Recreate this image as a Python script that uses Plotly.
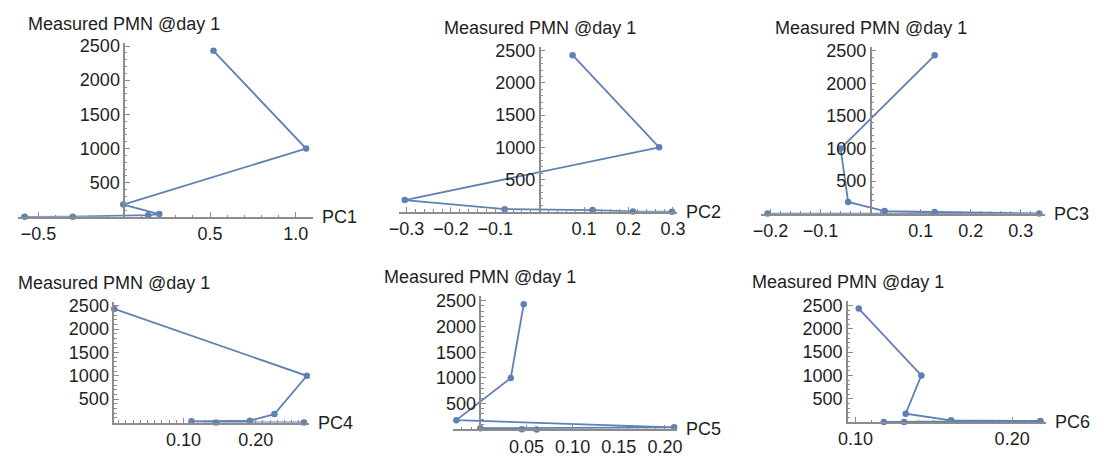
import plotly.graph_objects as go

# Measured PMN at day 1 (shared response) and the six principal-component scores
pmn_day1 = [2430, 1000, 180, 40, 25, 3, 1]
pc1 = [0.52, 1.06, -0.006, 0.204, 0.14, -0.30, -0.58]
pc2 = [0.074, 0.269, -0.304, -0.079, 0.119, 0.210, 0.298]
pc3 = [0.128, -0.060, -0.045, 0.028, 0.128, 0.337, -0.206]
pc4 = [0.004, 0.271, 0.226, 0.192, 0.111, 0.145, 0.267]
pc5 = [0.047, 0.033, -0.026, 0.210, 0.0, 0.045, 0.061]
pc6 = [0.102, 0.142, 0.132, 0.161, 0.218, 0.118, 0.131]

pc_names = ["PC1", "PC2", "PC3", "PC4", "PC5", "PC6"]
y_label = "Measured PMN @day 1"
y_ticks = [500, 1000, 1500, 2000, 2500]

x_ticks = [
    [-0.5, 0.5, 1.0],
    [-0.3, -0.2, -0.1, 0.1, 0.2, 0.3],
    [-0.2, -0.1, 0.1, 0.2, 0.3],
    [0.10, 0.20],
    [0.05, 0.10, 0.15, 0.20],
    [0.10, 0.20],
]
x_tick_text = [
    ["\u22120.5", "0.5", "1.0"],
    ["\u22120.3", "\u22120.2", "\u22120.1", "0.1", "0.2", "0.3"],
    ["\u22120.2", "\u22120.1", "0.1", "0.2", "0.3"],
    ["0.10", "0.20"],
    ["0.05", "0.10", "0.15", "0.20"],
    ["0.10", "0.20"],
]
x_minor_step = [0.1, 0.02, 0.02, 0.01, 0.01, 0.01]
x_ranges = [
    [-0.62, 1.10],
    [-0.318, 0.309],
    [-0.22, 0.348],
    [0.004, 0.274],
    [-0.030, 0.213],
    [0.095, 0.2215],
]
y_tops = [2545, 2560, 2565, 2585, 2595, 2585]
# where the vertical axis crosses the horizontal one
axes_origin = [0.0, 0.0, 0.0, 0.004, 0.0, 0.095]

# plot boxes in pixels: left, right, top, bottom
boxes = [
    (8, 308, 37, 216),
    (395, 678, 41, 210.7),
    (763, 1052, 40.7, 212.7),
    (106, 304, 303.3, 427.7),
    (450, 678, 297.3, 434.8),
    (851.7, 1053, 303, 427.3),
]

W, H = 1101, 457
LINE = "rgb(94,129,181)"
AXIS = "rgb(140,140,140)"
TEXT = "rgb(30,30,30)"
FONT = "Liberation Sans, Arial, sans-serif"
FS = 18
AXW = 1.5


def fx(px):
    return px / W


def fy(py):
    return 1 - py / H


series = [pc1, pc2, pc3, pc4, pc5, pc6]

fig = go.Figure()
layout = dict(
    width=W, height=H, autosize=False,
    margin=dict(l=0, r=0, t=0, b=0),
    paper_bgcolor="white", plot_bgcolor="rgba(0,0,0,0)",
    showlegend=False,
)
annotations = []

for i, xs in enumerate(series):
    n = i + 1
    xa = "xaxis" if n == 1 else f"xaxis{n}"
    ya = "yaxis" if n == 1 else f"yaxis{n}"
    xr = "x" if n == 1 else f"x{n}"
    yr = "y" if n == 1 else f"y{n}"
    left, right, top, bottom = boxes[i]
    x0, x1 = x_ranges[i]
    dom_x = [fx(left), fx(right)]
    dom_y = [fy(bottom), fy(top)]
    org = axes_origin[i]
    inner = org > x0  # vertical axis sits inside the box

    fig.add_trace(go.Scatter(
        x=xs, y=pmn_day1, xaxis=xr, yaxis=yr,
        mode="lines+markers",
        line=dict(color=LINE, width=1.8),
        marker=dict(color=LINE, size=6.5),
        cliponaxis=False,
        hoverinfo="skip",
    ))

    layout[xa] = dict(
        domain=dom_x, range=[x0, x1], anchor=yr,
        showgrid=False,
        zeroline=inner, zerolinecolor=AXIS, zerolinewidth=AXW,
        showline=True, linecolor=AXIS, linewidth=AXW,
        tickmode="array", tickvals=x_ticks[i], ticktext=x_tick_text[i],
        ticks="inside", ticklen=5, tickcolor=AXIS, tickwidth=1,
        tickfont=dict(family=FONT, size=FS, color=TEXT),
        minor=dict(ticks="inside", ticklen=2.5, tickcolor=AXIS,
                   tick0=0, dtick=x_minor_step[i], showgrid=False),
        fixedrange=True,
    )

    pos = dom_x[0] + (org - x0) / (x1 - x0) * (dom_x[1] - dom_x[0])
    yax = dict(
        domain=dom_y, range=[0, y_tops[i]],
        showgrid=False, zeroline=False,
        showline=True, linecolor=AXIS, linewidth=AXW,
        tickmode="array", tickvals=y_ticks,
        ticks="inside", ticklen=5, tickcolor=AXIS, tickwidth=1,
        tickfont=dict(family=FONT, size=FS, color=TEXT),
        minor=dict(ticks="inside", ticklen=2.5, tickcolor=AXIS,
                   tick0=0, dtick=100, showgrid=False),
        fixedrange=True,
    )
    if inner:
        yax.update(anchor="free", position=pos)
    else:
        yax.update(anchor=xr, side="left")
    layout[ya] = yax

    # axis titles drawn at the ends of the axes
    annotations.append(dict(
        text=y_label, xref="paper", yref="paper",
        x=pos, y=dom_y[1], xanchor="center", yanchor="middle", yshift=19,
        showarrow=False, font=dict(family=FONT, size=FS, color=TEXT),
    ))
    annotations.append(dict(
        text=pc_names[i], xref="paper", yref="paper",
        x=dom_x[1], y=dom_y[0], xanchor="left", yanchor="middle", xshift=7,
        showarrow=False, font=dict(family=FONT, size=FS, color=TEXT),
    ))

layout["annotations"] = annotations
fig.update_layout(**layout)
fig.write_html("out.html")
